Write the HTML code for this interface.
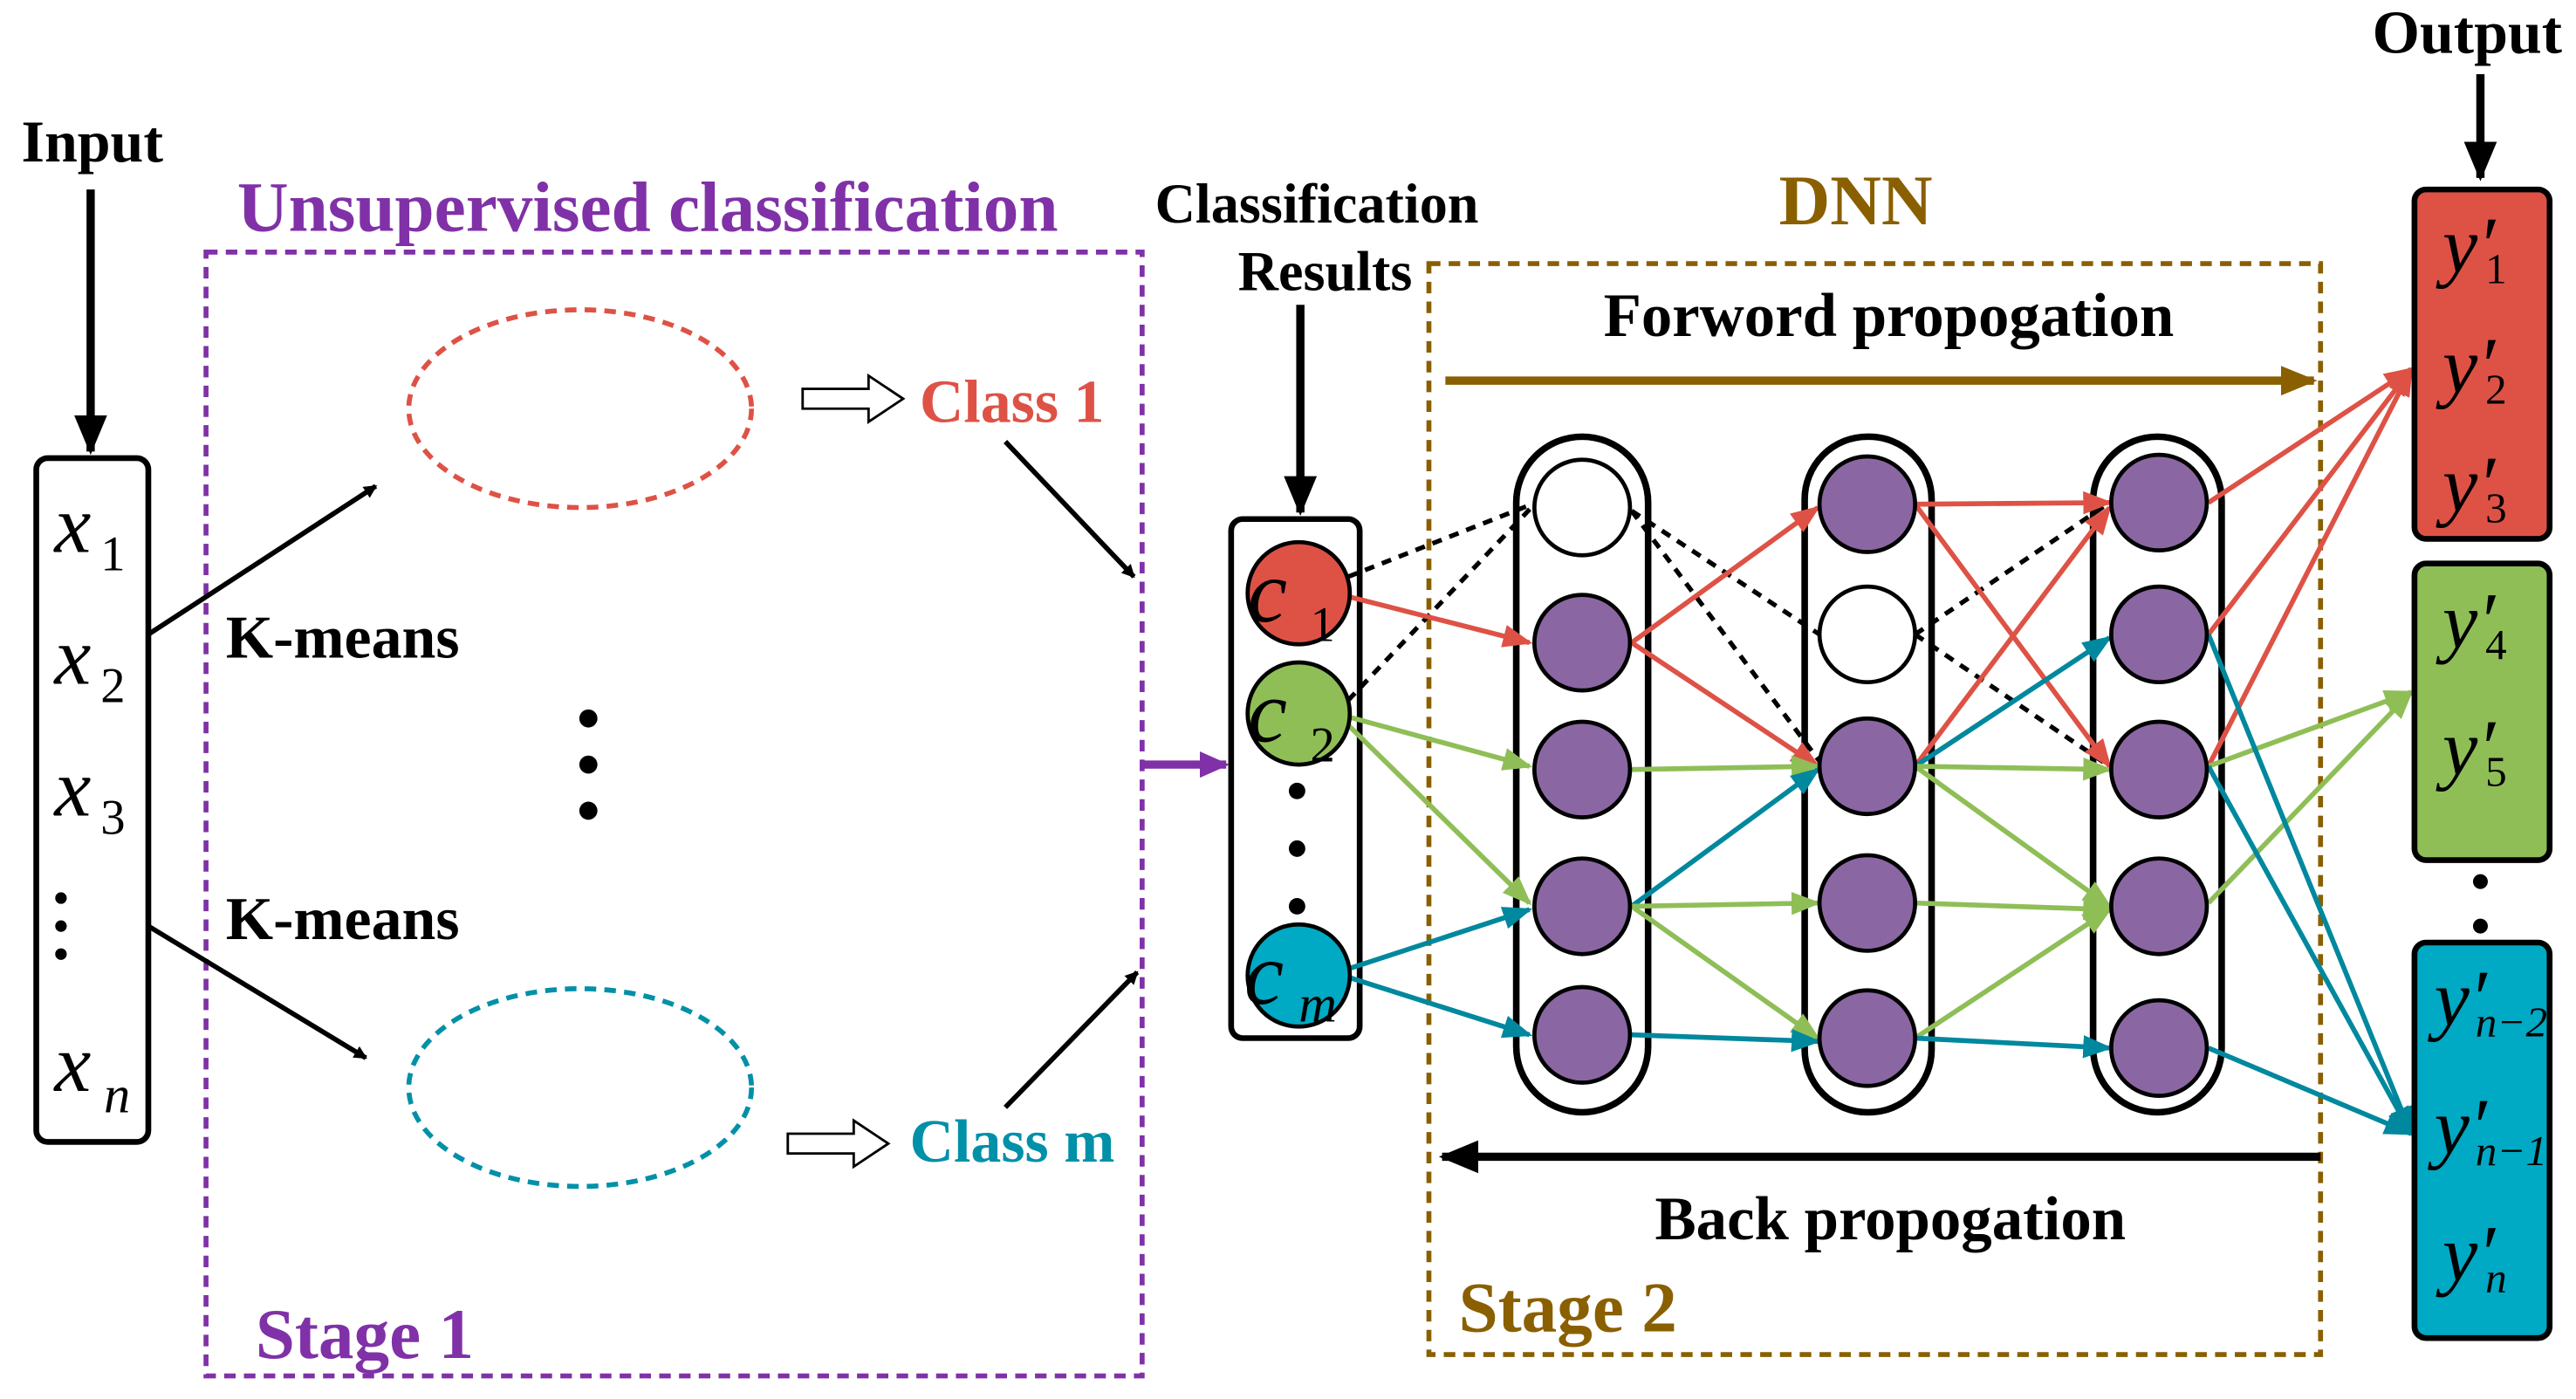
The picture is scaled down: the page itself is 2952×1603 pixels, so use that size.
<!DOCTYPE html>
<html><head><meta charset="utf-8"><style>
html,body{margin:0;padding:0;background:#fff}
svg{display:block}
.t{font-family:"Liberation Serif",serif;font-weight:bold}
.m{font-family:"Liberation Serif",serif;font-style:italic}
</style></head><body>
<svg width="2952" height="1603" viewBox="0 0 1563 849" preserveAspectRatio="none" xmlns="http://www.w3.org/2000/svg">
<defs>
<marker id="ak" markerWidth="8" markerHeight="8" refX="7" refY="4" orient="auto" markerUnits="userSpaceOnUse" viewBox="0 0 8 8"><path d="M0,0 L8,4 L0,8z" fill="#000"/></marker>
<marker id="akb" markerWidth="24" markerHeight="20" refX="22" refY="10" orient="auto" markerUnits="userSpaceOnUse"><path d="M0,0 L24,10 L0,20z" fill="#000"/></marker>
<marker id="ar" markerWidth="18" markerHeight="14" refX="16" refY="7" orient="auto" markerUnits="userSpaceOnUse"><path d="M0,0 L18,7 L0,14z" fill="#de5246"/></marker>
<marker id="ag" markerWidth="18" markerHeight="14" refX="16" refY="7" orient="auto" markerUnits="userSpaceOnUse"><path d="M0,0 L18,7 L0,14z" fill="#8fbe57"/></marker>
<marker id="ab" markerWidth="18" markerHeight="14" refX="16" refY="7" orient="auto" markerUnits="userSpaceOnUse"><path d="M0,0 L18,7 L0,14z" fill="#00889e"/></marker>
<marker id="ao" markerWidth="22" markerHeight="18" refX="20" refY="9" orient="auto" markerUnits="userSpaceOnUse"><path d="M0,0 L22,9 L0,18z" fill="#8a5f00"/></marker>
<marker id="ap" markerWidth="18" markerHeight="16" refX="16" refY="8" orient="auto" markerUnits="userSpaceOnUse"><path d="M0,0 L18,8 L0,16z" fill="#8031a7"/></marker>
</defs>

<!-- Input -->
<text x="56" y="98" class="t" font-size="36" text-anchor="middle">Input</text>
<line x1="55" y1="115" x2="55" y2="274" stroke="#000" stroke-width="5" marker-end="url(#akb)"/>
<rect x="22" y="278" width="68" height="415" rx="7" fill="#fff" stroke="#000" stroke-width="3.5"/>
<g class="m" font-size="50">
<text x="33" y="335">x</text><text x="61" y="346" font-size="30" font-style="normal">1</text>
<text x="33" y="415">x</text><text x="61" y="426" font-size="30" font-style="normal">2</text>
<text x="33" y="495">x</text><text x="61" y="506" font-size="30" font-style="normal">3</text>
<text x="33" y="662">x</text><text x="63" y="675" font-size="32">n</text>
</g>
<circle cx="37" cy="545" r="3.5"/><circle cx="37" cy="562" r="3.5"/><circle cx="37" cy="579" r="3.5"/>

<!-- Stage 1 -->
<text x="393" y="140" class="t" font-size="43" fill="#8031a7" text-anchor="middle">Unsupervised classification</text>
<rect x="125" y="153" width="568" height="682" fill="none" stroke="#8031a7" stroke-width="3" stroke-dasharray="7,5"/>
<text x="155" y="824" class="t" font-size="43" fill="#8031a7">Stage 1</text>
<ellipse cx="352" cy="248" rx="104" ry="60" fill="none" stroke="#de5246" stroke-width="3" stroke-dasharray="7,5"/>
<ellipse cx="352" cy="660" rx="104" ry="60" fill="none" stroke="#0090a8" stroke-width="3" stroke-dasharray="7,5"/>
<line x1="90" y1="385" x2="228" y2="295" stroke="#000" stroke-width="3" marker-end="url(#ak)"/>
<line x1="90" y1="562" x2="222" y2="642" stroke="#000" stroke-width="3" marker-end="url(#ak)"/>
<text x="137" y="399" class="t" font-size="37">K-means</text>
<text x="137" y="570" class="t" font-size="37">K-means</text>
<circle cx="357" cy="436" r="5.5"/><circle cx="357" cy="464" r="5.5"/><circle cx="357" cy="492" r="5.5"/>
<path d="M487,236 h40 v-8 l21,14 l-21,14 v-8 h-40z" fill="#fff" stroke="#000" stroke-width="1.5"/>
<text x="558" y="256" class="t" font-size="37" fill="#de5246">Class 1</text>
<path d="M478,688 h40 v-8 l21,14 l-21,14 v-8 h-40z" fill="#fff" stroke="#000" stroke-width="1.5"/>
<text x="552" y="705" class="t" font-size="37" fill="#0090a8">Class m</text>
<line x1="610" y1="268" x2="688" y2="350" stroke="#000" stroke-width="3" marker-end="url(#ak)"/>
<line x1="610" y1="672" x2="690" y2="590" stroke="#000" stroke-width="3" marker-end="url(#ak)"/>
<line x1="693" y1="464" x2="744" y2="464" stroke="#8031a7" stroke-width="5" marker-end="url(#ap)"/>

<!-- Classification results -->
<text x="799" y="135" class="t" font-size="34" text-anchor="middle">Classification</text>
<text x="804" y="176" class="t" font-size="34" text-anchor="middle">Results</text>
<line x1="789" y1="185" x2="789" y2="311" stroke="#000" stroke-width="5" marker-end="url(#akb)"/>
<rect x="747" y="315" width="78" height="315" rx="7" fill="#fff" stroke="#000" stroke-width="3.5"/>

<!-- DNN -->
<text x="1126" y="136" class="t" font-size="43" fill="#8a5f00" text-anchor="middle">DNN</text>
<rect x="867" y="160" width="541" height="662" fill="none" stroke="#8a5f00" stroke-width="3" stroke-dasharray="7,5"/>
<text x="885" y="808" class="t" font-size="43" fill="#8a5f00">Stage 2</text>
<text x="1146" y="204" class="t" font-size="37.5" text-anchor="middle">Forword propogation</text>
<line x1="877" y1="231" x2="1404" y2="231" stroke="#8a5f00" stroke-width="5" marker-end="url(#ao)"/>
<line x1="1408" y1="702" x2="875" y2="702" stroke="#000" stroke-width="5" marker-end="url(#akb)"/>
<text x="1147" y="752" class="t" font-size="37.5" text-anchor="middle">Back propogation</text>

<!-- pills -->
<rect x="920" y="265" width="80" height="410" rx="40" fill="#fff" stroke="#000" stroke-width="4"/>
<rect x="1095" y="265" width="77" height="410" rx="38" fill="#fff" stroke="#000" stroke-width="4"/>
<rect x="1270" y="265" width="78" height="410" rx="39" fill="#fff" stroke="#000" stroke-width="4"/>

<!-- connections -->
<g stroke-width="2.8" fill="none" stroke="#000" stroke-dasharray="6,5">
<line x1="818" y1="350" x2="932" y2="305"/><line x1="818" y1="425" x2="932" y2="305"/>
<line x1="990" y1="310" x2="1104" y2="462"/><line x1="990" y1="310" x2="1104" y2="385"/>
<line x1="1162" y1="385" x2="1280" y2="305"/><line x1="1162" y1="385" x2="1280" y2="465"/>
</g>
<g stroke-width="3" fill="none">
<line x1="818" y1="362" x2="928" y2="390" stroke="#de5246" marker-end="url(#ar)"/>
<line x1="818" y1="435" x2="928" y2="465" stroke="#8fbe57" marker-end="url(#ag)"/>
<line x1="818" y1="440" x2="928" y2="548" stroke="#8fbe57" marker-end="url(#ag)"/>
<line x1="818" y1="588" x2="928" y2="552" stroke="#00889e" marker-end="url(#ab)"/>
<line x1="818" y1="593" x2="928" y2="628" stroke="#00889e" marker-end="url(#ab)"/>

<line x1="990" y1="390" x2="1103" y2="308" stroke="#de5246" marker-end="url(#ar)"/>
<line x1="990" y1="390" x2="1103" y2="465" stroke="#de5246" marker-end="url(#ar)"/>
<line x1="990" y1="467" x2="1103" y2="465" stroke="#8fbe57" marker-end="url(#ag)"/>
<line x1="990" y1="550" x2="1103" y2="467" stroke="#00889e" marker-end="url(#ab)"/>
<line x1="990" y1="550" x2="1103" y2="548" stroke="#8fbe57" marker-end="url(#ag)"/>
<line x1="990" y1="550" x2="1103" y2="630" stroke="#8fbe57" marker-end="url(#ag)"/>
<line x1="990" y1="628" x2="1103" y2="632" stroke="#00889e" marker-end="url(#ab)"/>

<line x1="1162" y1="306" x2="1280" y2="305" stroke="#de5246" marker-end="url(#ar)"/>
<line x1="1162" y1="306" x2="1280" y2="465" stroke="#de5246" marker-end="url(#ar)"/>
<line x1="1162" y1="465" x2="1280" y2="308" stroke="#de5246" marker-end="url(#ar)"/>
<line x1="1162" y1="465" x2="1280" y2="387" stroke="#00889e" marker-end="url(#ab)"/>
<line x1="1162" y1="465" x2="1280" y2="467" stroke="#8fbe57" marker-end="url(#ag)"/>
<line x1="1162" y1="465" x2="1280" y2="550" stroke="#8fbe57" marker-end="url(#ag)"/>
<line x1="1162" y1="548" x2="1280" y2="552" stroke="#8fbe57" marker-end="url(#ag)"/>
<line x1="1162" y1="630" x2="1280" y2="552" stroke="#8fbe57" marker-end="url(#ag)"/>
<line x1="1162" y1="630" x2="1280" y2="636" stroke="#00889e" marker-end="url(#ab)"/>

<line x1="1340" y1="305" x2="1463" y2="224" stroke="#de5246" marker-end="url(#ar)"/>
<line x1="1340" y1="385" x2="1463" y2="224" stroke="#de5246" marker-end="url(#ar)"/>
<line x1="1340" y1="465" x2="1463" y2="224" stroke="#de5246" marker-end="url(#ar)"/>
<line x1="1340" y1="465" x2="1463" y2="420" stroke="#8fbe57" marker-end="url(#ag)"/>
<line x1="1340" y1="548" x2="1463" y2="420" stroke="#8fbe57" marker-end="url(#ag)"/>
<line x1="1340" y1="385" x2="1463" y2="688" stroke="#00889e" marker-end="url(#ab)"/>
<line x1="1340" y1="465" x2="1463" y2="688" stroke="#00889e" marker-end="url(#ab)"/>
<line x1="1340" y1="636" x2="1463" y2="688" stroke="#00889e" marker-end="url(#ab)"/>
</g>

<!-- nodes -->
<g stroke="#000" stroke-width="2.5">
<circle cx="960" cy="308" r="29" fill="#fff"/>
<circle cx="960" cy="390" r="29" fill="#8a67a2"/>
<circle cx="960" cy="467" r="29" fill="#8a67a2"/>
<circle cx="960" cy="550" r="29" fill="#8a67a2"/>
<circle cx="960" cy="628" r="29" fill="#8a67a2"/>
<circle cx="1133" cy="306" r="29" fill="#8a67a2"/>
<circle cx="1133" cy="385" r="29" fill="#fff"/>
<circle cx="1133" cy="465" r="29" fill="#8a67a2"/>
<circle cx="1133" cy="548" r="29" fill="#8a67a2"/>
<circle cx="1133" cy="630" r="29" fill="#8a67a2"/>
<circle cx="1310" cy="305" r="29" fill="#8a67a2"/>
<circle cx="1310" cy="385" r="29" fill="#8a67a2"/>
<circle cx="1310" cy="467" r="29" fill="#8a67a2"/>
<circle cx="1310" cy="550" r="29" fill="#8a67a2"/>
<circle cx="1310" cy="636" r="29" fill="#8a67a2"/>
<circle cx="788" cy="360" r="31" fill="#de5246"/>
<circle cx="788" cy="433" r="31" fill="#8fbe57"/>
<circle cx="788" cy="592" r="31" fill="#00a9c4"/>
</g>
<g class="m" font-size="54">
<text x="757" y="377">c</text><text x="795" y="389" font-size="30" font-style="normal">1</text>
<text x="757" y="450">c</text><text x="795" y="462" font-size="30" font-style="normal">2</text>
<text x="755" y="609">c</text><text x="788" y="620" font-size="32">m</text>
</g>
<circle cx="787" cy="480" r="5"/><circle cx="787" cy="515" r="5"/><circle cx="787" cy="550" r="5"/>

<!-- Output -->
<text x="1497" y="32" class="t" font-size="37" text-anchor="middle">Output</text>
<line x1="1505" y1="45" x2="1505" y2="108" stroke="#000" stroke-width="5" marker-end="url(#akb)"/>
<rect x="1465" y="115" width="82" height="212" rx="7" fill="#de5246" stroke="#000" stroke-width="3.5"/>
<rect x="1465" y="342" width="82" height="180" rx="7" fill="#8fbe57" stroke="#000" stroke-width="3.5"/>
<rect x="1465" y="572" width="82" height="240" rx="7" fill="#00a9c4" stroke="#000" stroke-width="3.5"/>
<circle cx="1505" cy="535" r="4.5"/><circle cx="1505" cy="562" r="4.5"/>
<g class="m" font-size="48">
<text x="1482" y="165">y′</text><text x="1508" y="172" font-size="26" font-style="normal">1</text>
<text x="1482" y="238">y′</text><text x="1508" y="245" font-size="26" font-style="normal">2</text>
<text x="1482" y="310">y′</text><text x="1508" y="317" font-size="26" font-style="normal">3</text>
<text x="1482" y="393">y′</text><text x="1508" y="400" font-size="26" font-style="normal">4</text>
<text x="1482" y="470">y′</text><text x="1508" y="477" font-size="26" font-style="normal">5</text>
<text x="1477" y="622">y′</text><text x="1502" y="629" font-size="26">n−2</text>
<text x="1477" y="700">y′</text><text x="1502" y="707" font-size="26">n−1</text>
<text x="1482" y="777">y′</text><text x="1508" y="784" font-size="26">n</text>
</g>
</svg>
</body></html>
